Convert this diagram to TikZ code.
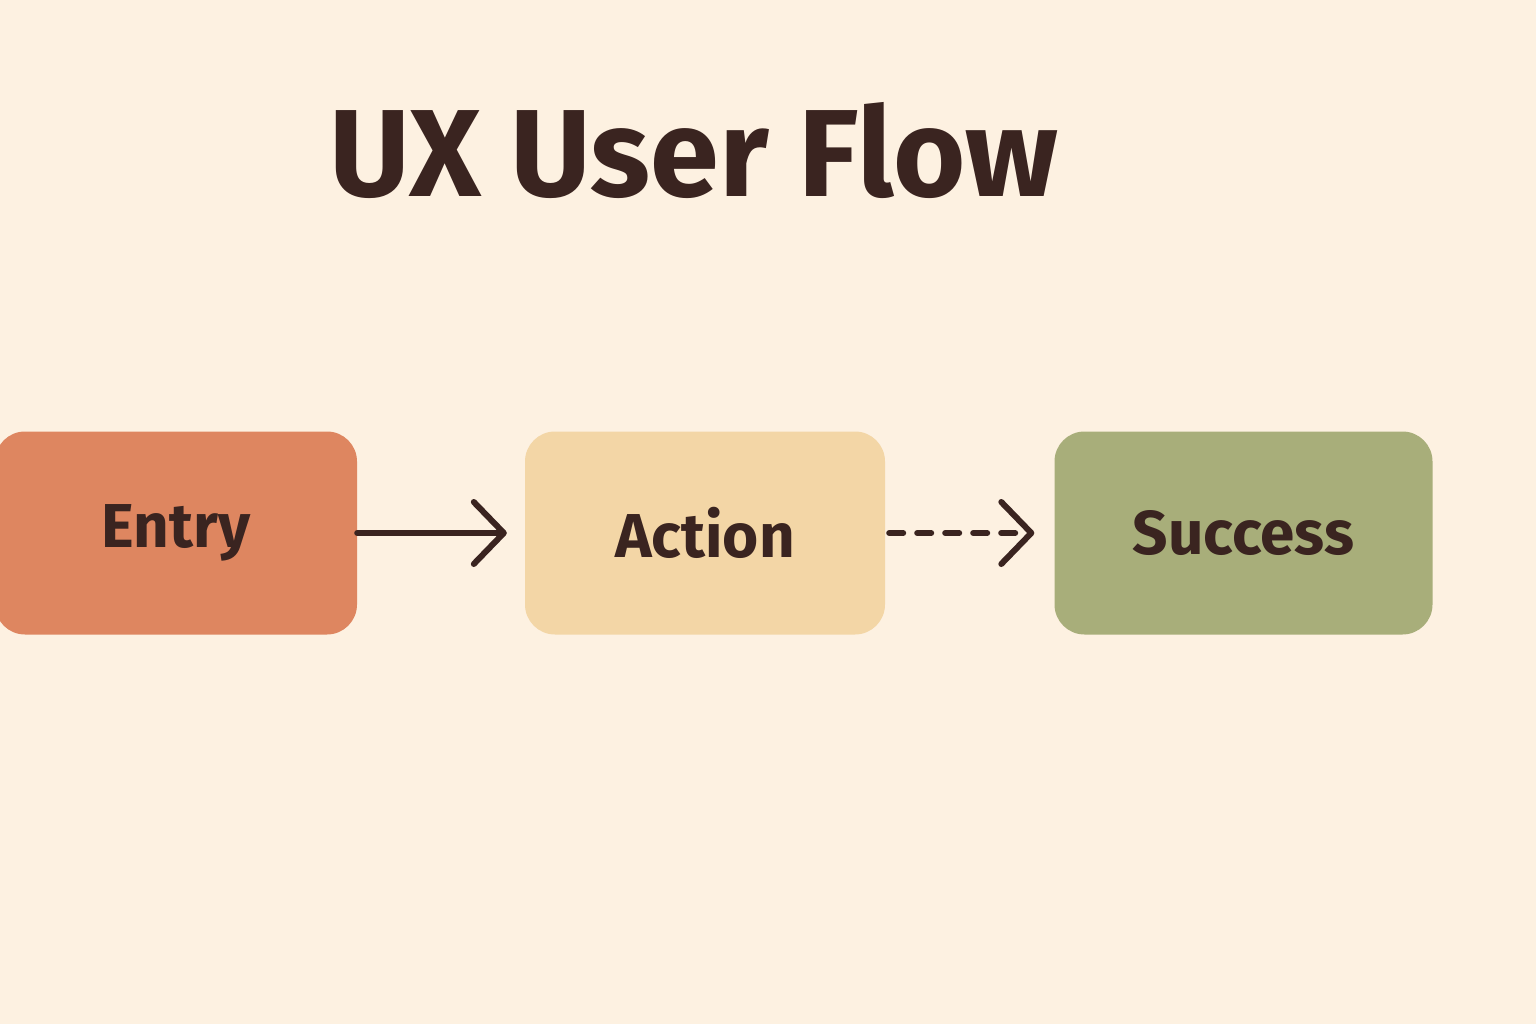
\documentclass[tikz,border=0pt]{standalone}
\usepackage{fontspec}
\setmainfont{Fira Sans}
\usetikzlibrary{arrows.meta}
\definecolor{bg}{HTML}{FDF1E1}
\definecolor{ink}{HTML}{3A2420}
\definecolor{c1}{HTML}{DE8660}
\definecolor{c2}{HTML}{F3D6A6}
\definecolor{c3}{HTML}{A8AE7A}
\begin{document}
\begin{tikzpicture}[x=1pt,y=-1pt,
  box/.style={rounded corners=30pt,minimum height=203pt,inner sep=0pt,
    font=\fontsize{62}{70}\selectfont\bfseries,text=ink},
  flow/.style={draw=ink,line width=6pt,line cap=round,
    -{Straight Barb[length=30pt,width=62pt,line cap=round,line join=round]}}]
\fill[bg] (0,0) rectangle (1536,1024);
\useasboundingbox (0,0) rectangle (1536,1024);
\node[text=ink,font=\fontsize{124}{130}\selectfont\bfseries] (title) at (694,150) {UX User Flow};
\node[box,fill=c1,minimum width=362pt] (entry) at (176,533) {Entry};
\node[box,fill=c2,minimum width=360pt] (action) at (705,533) {Action};
\node[box,fill=c3,minimum width=378pt] (success) at (1243.5,533) {Success};
\draw[flow] (entry.east) -- ([xshift=-18pt]action.west);
\draw[flow,dash pattern=on 14pt off 14pt] ([xshift=4pt]action.east) -- ([xshift=-20pt]success.west);
\end{tikzpicture}
\end{document}
